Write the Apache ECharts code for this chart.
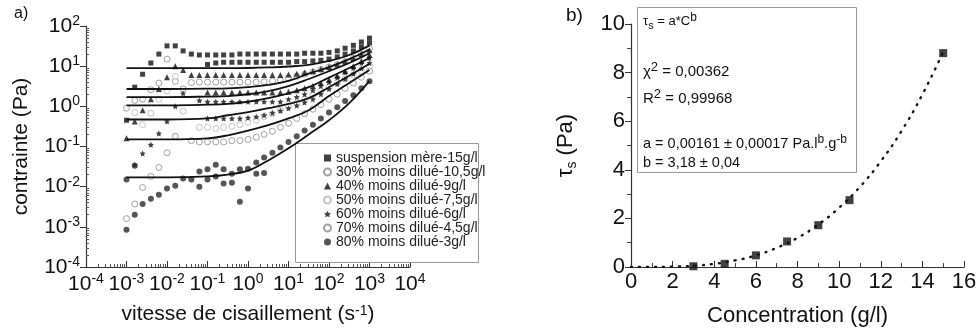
<!DOCTYPE html>
<html>
<head>
<meta charset="utf-8">
<script src="https://cdn.jsdelivr.net/npm/echarts@6/dist/echarts.min.js"></script>
<style>
  html, body { margin: 0; padding: 0; background: #fff; }
  #chart { width: 980px; height: 333px; }
</style>
</head>
<body>
<div id="chart"></div>
<script>
// ---- panel a : flow curves (log-log) ----
var shearRate = [0.001, 0.0016, 0.0025, 0.004, 0.0063, 0.01, 0.016, 0.025, 0.04, 0.063,
  0.1, 0.16, 0.25, 0.4, 0.63, 1, 1.6, 2.5, 4, 6.3,
  10, 16, 25, 40, 63, 100, 160, 250, 400, 630, 1000]

var s15 = [0.45, 3.0, 6.3, 12, 20, 32, 32, 24, 20, 19, 19, 19, 19, 19, 20, 20, 20, 20, 20, 20, 20, 20, 21, 21, 21, 22, 24, 28, 33, 40, 50]
var s15b = [null, null, null, null, null, null, null, null, null, null, 11, 12, 12.5, 12.5, 12.5, 12.5, 12.5, 12.5, 12.5, 12.5, 12.5, 13, 13, 13.5, 14, 15, 17, 20, 24, 30, 38]
var s10_5 = [0.9, 1.4, 1.5, 2.6, 3.8, 15, 4.2, 2.7, 3.9, 4.0, 4.0, 4.0, 4.0, 4.0, 4.0, 4.0, 4.0, 4.1, 4.2, 4.5, 5.0, 5.6, 6.3, 7.2, 8.2, 9.5, 11, 13, 16, 20, 27]
var s9 = [0.16, 0.42, 0.8, 1.5, 2.7, 5.3, 10, 8, 6.0, 6.0, 6.0, 6.0, 6.0, 6.0, 6.0, 6.0, 6.0, 6.0, 6.0, 6.0, 6.2, 6.5, 7, 7.5, 8.5, 9.5, 11, 13, 16, 20, 25]
var s9b = [null, null, null, null, null, null, null, null, null, null, 2.2, 2.2, 2.2, 2.2, 2.2, 2.2, 2.2, 2.2, 2.2, 2.2, 2.3, 2.5, 2.8, 3.2, 3.8, 4.6, 5.8, 7.5, 10, 13.5, 19]
var s7_5 = [null, 0.7, 0.35, 0.67, 1.5, 2.4, 5.6, 0.75, null, 0.3, 0.3, 0.28, 0.3, 0.32, 0.35, 0.4, 0.45, 0.55, 0.65, 0.8, 1.0, 1.2, 1.5, 1.9, 2.4, 3.0, 3.8, 4.8, 6.0, 7.5, 10]
var s6 = [null, 0.035, 0.067, 0.11, 0.21, 0.42, 1.0, 2.1, null, 1.4, 0.5, 0.5, 0.5, 0.5, 0.5, 0.52, 0.55, 0.6, 0.68, 0.78, 0.9, 1.05, 1.25, 1.5, 2.0, 2.7, 3.6, 4.8, 6.5, 8.8, 12]
var s6b = [null, null, null, null, null, null, null, null, null, null, 1.3, 1.3, 1.3, 1.3, 1.3, 1.3, 1.3, 1.3, 1.3, 1.3, 1.5, 1.7, 2.0, 2.5, 3.2, 4.0, 5.2, 7, 9, 12, 16]
var s4_5 = [0.0016, 0.0037, 0.0095, 0.018, 0.03, 0.07, 0.18, null, 0.14, 0.13, 0.13, 0.13, 0.13, 0.14, 0.14, 0.15, 0.17, 0.2, 0.24, 0.3, 0.38, 0.5, 0.65, 0.85, 1.1, 1.5, 2.0, 2.8, 3.8, 5.3, 7.5]
var s3 = [0.00084, 0.002, 0.0037, 0.005, 0.0063, 0.009, 0.0105, 0.016, 0.015, 0.024, 0.027, 0.035, 0.027, 0.021, 0.027, 0.028, 0.04, 0.053, 0.07, 0.095, 0.13, 0.18, 0.25, 0.35, 0.5, 0.7, 0.95, 1.35, 1.9, 2.8, 4.2]
var s3b = [0.015, 0.033, null, null, null, null, null, null, null, 0.01, 0.015, 0.018, 0.012, 0.0125, 0.0042, 0.009, 0.021, 0.022, null, null, null, null, null, null, null, null, null, null, null, null, null]

// fitted curves
var fitRate = [0.001, 0.01, 0.1, 0.316, 1, 3.16, 10, 31.6, 100, 316, 1000]
var fit15 = [8.9, 8.9, 8.9, 8.9, 9.0, 9.3, 9.8, 10.8, 13.5, 19, 33]
var fit10_5 = [2.7, 2.7, 2.75, 2.8, 3.0, 3.4, 4.3, 6.5, 9.5, 15, 26]
var fit9 = [1.7, 1.7, 1.75, 1.8, 2.0, 2.4, 3.2, 4.8, 7.5, 12, 21]
var fit7_5 = [1.06, 1.06, 1.1, 1.15, 1.3, 1.6, 2.1, 3.0, 5.2, 9, 16]
var fit6 = [0.47, 0.47, 0.5, 0.6, 0.72, 0.9, 1.15, 1.6, 3.0, 5.8, 11.5]
var fit4_5 = [0.15, 0.15, 0.16, 0.19, 0.25, 0.34, 0.5, 0.8, 1.8, 3.8, 8]
var fit3 = [0.017, 0.017, 0.018, 0.02, 0.025, 0.045, 0.09, 0.2, 0.45, 1.2, 4.3]

var legendNames = ['suspension mère-15g/l', '30% moins dilué-10,5g/l', '40% moins dilué-9g/l',
  '50% moins dilué-7,5g/l', '60% moins dilué-6g/l', '70% moins dilué-4,5g/l', '80% moins dilué-3g/l']

// ---- panel b : yield stress vs concentration ----
var concentration = [3, 4.5, 6, 7.5, 9, 10.5, 15]
var yieldStress = [0.03, 0.13, 0.48, 1.05, 1.72, 2.75, 8.8]
var fitConc = [0, 1, 2, 3, 4, 5, 6, 7, 8, 9, 10, 11, 12, 13, 14, 15]
var fitStress = [0, 0.0016, 0.015, 0.05, 0.13, 0.27, 0.48, 0.79, 1.2, 1.75, 2.44, 3.3, 4.35, 5.6, 7.1, 8.85]

var FONT = 'Liberation Sans, Arial, sans-serif'
var STAR = 'path://M0,-10L2.9,-4L9.5,-3.1L4.7,1.5L5.9,8.1L0,5L-5.9,8.1L-4.7,1.5L-9.5,-3.1L-2.9,-4Z'

function pairs(xs, ys) {
  var out = []
  for (var i = 0; i < xs.length; i++) {
    if (ys[i] != null) out.push([xs[i], ys[i]])
  }
  return out
}

// minor tick positions 2..9 x 10^d for the log axes
function logMinor(from, to) {
  var out = []
  for (var d = from; d < to; d++) {
    for (var k = 2; k <= 9; k++) out.push(k * Math.pow(10, d))
  }
  return out
}

function powLabel(v) {
  var e = Math.round(Math.log10(v))
  return '{b|10}{s|' + e + '}'
}
var powRich = {
  b: { fontSize: 21, fontFamily: FONT, color: '#111', lineHeight: 24 },
  s: { fontSize: 14, fontFamily: FONT, color: '#111', lineHeight: 14, verticalAlign: 'top' }
}

function scatter(name, data, symbol, size, style) {
  return {
    name: name, type: 'scatter', xAxisIndex: 0, yAxisIndex: 0,
    symbol: symbol, symbolSize: size, data: data, itemStyle: style, z: 3
  }
}
function fitLine(ys) {
  return {
    type: 'line', xAxisIndex: 0, yAxisIndex: 0, data: pairs(fitRate, ys),
    smooth: 0.4, symbol: 'none', silent: true, z: 4,
    lineStyle: { color: '#111', width: 1.8 }
  }
}

var black = { color: '#111' }
var openGray = { color: '#fff', borderColor: '#8a8a8a', borderWidth: 1 }
var openLight = { color: '#fff', borderColor: '#b5b5b5', borderWidth: 1 }

var chart = echarts.init(document.getElementById('chart'))
chart.setOption({
  backgroundColor: '#fff',
  animation: false,
  grid: [
    { left: 86, top: 26, width: 324, height: 241 },
    { left: 631, top: 24, width: 333, height: 243 }
  ],
  legend: {
    data: legendNames, orient: 'vertical', left: 318, top: 146,
    itemWidth: 7, itemHeight: 7, itemGap: 0, selectedMode: false,
    textStyle: { fontSize: 14, fontFamily: FONT, color: '#222', lineHeight: 13 }
  },
  xAxis: [
    {
      type: 'log', gridIndex: 0, min: 1e-4, max: 1e4, interval: 1,
      name: 'vitesse de cisaillement (s{s|-1})', nameLocation: 'middle', nameGap: 37,
      nameTextStyle: {
        fontSize: 21, fontFamily: FONT, color: '#111',
        rich: { s: { fontSize: 14, fontFamily: FONT, color: '#111', verticalAlign: 'top', lineHeight: 14 } }
      },
      axisLine: { lineStyle: { color: '#333', width: 1.2 } },
      axisTick: { inside: true, length: 6, lineStyle: { color: '#333' } },
      splitLine: { show: false },
      axisLabel: { formatter: powLabel, rich: powRich, margin: 5 }
    },
    {
      type: 'value', gridIndex: 1, min: 0, max: 16, interval: 2,
      name: 'Concentration (g/l)', nameLocation: 'middle', nameGap: 38,
      nameTextStyle: { fontSize: 22, fontFamily: FONT, color: '#111' },
      axisLine: { lineStyle: { color: '#333', width: 1.2 } },
      axisTick: { inside: true, length: 6, lineStyle: { color: '#333' } },
      minorTick: { show: true, splitNumber: 2, length: 4, lineStyle: { color: '#444' } },
      splitLine: { show: false },
      axisLabel: { fontSize: 22, fontFamily: FONT, color: '#111', margin: 4 }
    },
    {
      // minor ticks of the log x axis
      type: 'log', gridIndex: 0, position: 'bottom', min: 1e-4, max: 1e4,
      axisLine: { show: false },
      axisTick: { show: true, inside: true, length: 3, customValues: logMinor(-4, 4), lineStyle: { color: '#555' } },
      axisLabel: { show: false },
      splitLine: { show: false }
    }
  ],
  yAxis: [
    {
      type: 'log', gridIndex: 0, min: 1e-4, max: 1e2, interval: 1,
      name: 'contrainte (Pa)', nameLocation: 'middle', nameGap: 54,
      nameTextStyle: { fontSize: 21, fontFamily: FONT, color: '#111' },
      axisLine: { show: true, lineStyle: { color: '#333', width: 1.2 } },
      axisTick: { show: true, length: 6, lineStyle: { color: '#333' } },
      splitLine: { show: false },
      axisLabel: { formatter: powLabel, rich: powRich, margin: 6 }
    },
    {
      type: 'value', gridIndex: 1, min: 0, max: 10, interval: 2,
      name: '{t|τ}{sub|s}{t| (Pa)}', nameLocation: 'middle', nameGap: 52,
      nameTextStyle: {
        rich: {
          t: { fontSize: 22, fontFamily: FONT, color: '#111', lineHeight: 26 },
          sub: { fontSize: 14, fontFamily: FONT, color: '#111', lineHeight: 14, verticalAlign: 'bottom' }
        }
      },
      axisLine: { show: true, lineStyle: { color: '#333', width: 1.2 } },
      axisTick: { show: true, length: 6, lineStyle: { color: '#333' } },
      minorTick: { show: true, splitNumber: 2, length: 4, lineStyle: { color: '#444' } },
      splitLine: { show: false },
      axisLabel: { fontSize: 22, fontFamily: FONT, color: '#111', margin: 6 }
    },
    {
      // minor ticks of the log y axis
      type: 'log', gridIndex: 0, position: 'left', min: 1e-4, max: 1e2,
      axisLine: { show: false },
      axisTick: { show: true, inside: true, length: 3, customValues: logMinor(-4, 2), lineStyle: { color: '#555' } },
      axisLabel: { show: false },
      splitLine: { show: false }
    }
  ],
  graphic: [
    { type: 'text', left: 14, top: 6, style: { text: 'a)', fontSize: 16, fontFamily: FONT, fill: '#111' } },
    { type: 'text', left: 566, top: 6, style: { text: 'b)', fontSize: 19, fontFamily: FONT, fill: '#111' } },
    {
      type: 'rect', shape: { x: 295.5, y: 143.5, width: 183, height: 119 }, z: 1,
      style: { fill: '#fff', stroke: '#999', lineWidth: 1 }
    },
    {
      type: 'rect', shape: { x: 637.5, y: 7.5, width: 219, height: 165 }, z: 1,
      style: { fill: '#fff', stroke: '#999', lineWidth: 1 }
    },
    {
      type: 'text', x: 643, y: 12, z: 2,
      style: {
        text: '{t|τ}{sub|s}{t| = a*C}{sup|b}',
        rich: {
          t: { fontSize: 13, fontFamily: FONT, fill: '#111', lineHeight: 19 },
          sub: { fontSize: 11, fontFamily: FONT, fill: '#111', lineHeight: 11, verticalAlign: 'bottom' },
          sup: { fontSize: 12, fontFamily: FONT, fill: '#111', lineHeight: 12, verticalAlign: 'top' }
        }
      }
    },
    {
      type: 'text', x: 643, y: 61, z: 2,
      style: {
        text: '{t|χ}{sup|2}{t| = 0,00362}',
        rich: {
          t: { fontSize: 15, fontFamily: FONT, fill: '#111', lineHeight: 21 },
          sup: { fontSize: 13, fontFamily: FONT, fill: '#111', lineHeight: 13, verticalAlign: 'top' }
        }
      }
    },
    {
      type: 'text', x: 643, y: 88, z: 2,
      style: {
        text: '{t|R}{sup|2}{t| = 0,99968}',
        rich: {
          t: { fontSize: 15, fontFamily: FONT, fill: '#111', lineHeight: 21 },
          sup: { fontSize: 13, fontFamily: FONT, fill: '#111', lineHeight: 13, verticalAlign: 'top' }
        }
      }
    },
    {
      type: 'text', x: 643, y: 134, z: 2,
      style: {
        text: '{t|a = 0,00161 ± 0,00017 Pa.l}{sup|b}{t|.g}{sup|-b}',
        rich: {
          t: { fontSize: 14.5, fontFamily: FONT, fill: '#111', lineHeight: 20 },
          sup: { fontSize: 12, fontFamily: FONT, fill: '#111', lineHeight: 12, verticalAlign: 'top' }
        }
      }
    },
    {
      type: 'text', x: 643, y: 155, z: 2,
      style: { text: 'b = 3,18 ± 0,04', fontSize: 14.5, fontFamily: FONT, fill: '#111' }
    }
  ],
  series: [
    scatter(legendNames[0], pairs(shearRate, s15).concat(pairs(shearRate, s15b)), 'rect', 5, black),
    scatter(legendNames[1], pairs(shearRate, s10_5), 'circle', 6, openGray),
    scatter(legendNames[2], pairs(shearRate, s9).concat(pairs(shearRate, s9b)), 'triangle', 6, black),
    scatter(legendNames[3], pairs(shearRate, s7_5), 'circle', 6, openLight),
    scatter(legendNames[4], pairs(shearRate, s6).concat(pairs(shearRate, s6b)), STAR, 6, black),
    scatter(legendNames[5], pairs(shearRate, s4_5), 'circle', 6, openGray),
    scatter(legendNames[6], pairs(shearRate, s3).concat(pairs(shearRate, s3b)), 'circle', 6, { color: '#2a2a2a' }),
    fitLine(fit15), fitLine(fit10_5), fitLine(fit9), fitLine(fit7_5),
    fitLine(fit6), fitLine(fit4_5), fitLine(fit3),
    {
      type: 'line', xAxisIndex: 1, yAxisIndex: 1, data: pairs(fitConc, fitStress),
      smooth: true, symbol: 'none', silent: true,
      lineStyle: { color: '#111', width: 2.4, type: [1, 7], cap: 'round' }
    },
    {
      type: 'scatter', xAxisIndex: 1, yAxisIndex: 1, data: pairs(concentration, yieldStress),
      symbol: 'rect', symbolSize: 8, itemStyle: { color: '#111' }, z: 3
    }
  ]
})
</script>
</body>
</html>
